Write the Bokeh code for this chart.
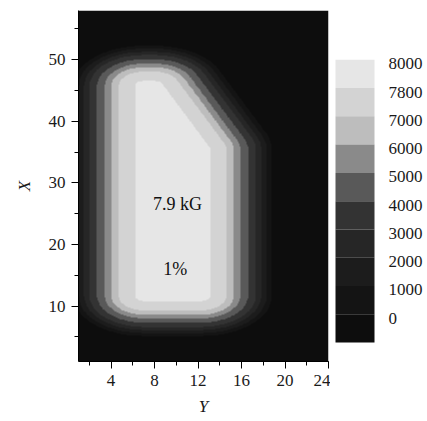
import numpy as np
from bokeh.plotting import figure
from bokeh.layouts import row
from bokeh.models import Range1d, SingleIntervalTicker, LinearColorMapper
from bokeh.core.properties import value
from bokeh.embed import file_html
from bokeh.resources import INLINE

# ---- data -------------------------------------------------------------
# colour-bar levels (top to bottom) and their grey shades
level_labels = ["8000", "7800", "7000", "6000", "5000", "4000", "3000", "2000", "1000", "0"]
level_colors = ["#e6e6e6", "#d3d3d3", "#bdbdbd", "#8a8a8a", "#595959",
                "#333333", "#262626", "#1c1c1c", "#141414", "#0d0d0d"]

# core outline of the pole face (horizontal axis "Y", vertical axis "X")
pole_Y = [7.0, 7.0, 7.97, 12.3, 12.3]
pole_X = [11.6, 45.8, 45.8, 35.54, 11.6]

# distance outside the pole core at which the field falls below each level
level_dist = [0.8, 2.3, 3.0, 3.6, 4.3, 5.0, 5.5, 6.0, 6.5]

# annotations
note_text = ["7.9 kG", "1%"]
note_Y = [10.1, 9.9]
note_X = [26.6, 16.1]

# axis ranges
Y_range = (1, 24)
X_range = (1, 58)

# ---- field on a grid ------------------------------------------------------
nY, nX = 460, 1140
gY = np.linspace(Y_range[0], Y_range[1], nY)
gX = np.linspace(X_range[0], X_range[1], nX)
GY, GX = np.meshgrid(gY, gX)

vy = np.array(pole_Y)
vx = np.array(pole_X)
n = len(vy)
dist = np.full(GY.shape, np.inf)
cross_signs = []
for i in range(n):
    ay, ax = vy[i], vx[i]
    by, bx = vy[(i + 1) % n], vx[(i + 1) % n]
    ey, ex = by - ay, bx - ax
    L2 = ey * ey + ex * ex
    t = np.clip(((GY - ay) * ey + (GX - ax) * ex) / L2, 0, 1)
    dy = GY - (ay + t * ey)
    dx = GX - (ax + t * ex)
    dist = np.minimum(dist, np.hypot(dy, dx))
    cross_signs.append(ey * (GX - ax) - ex * (GY - ay))
cs = np.array(cross_signs)
inside = np.all(cs >= 0, axis=0) | np.all(cs <= 0, axis=0)
dist[inside] = 0.0

band = 9 - np.searchsorted(np.array(level_dist), dist, side="left")

mapper = LinearColorMapper(palette=level_colors[::-1], low=-0.5, high=9.5)

# ---- main figure ------------------------------------------------------------
FONT = "Liberation Serif"
p = figure(width=330, height=418,
           x_range=Range1d(*Y_range), y_range=Range1d(*X_range),
           output_backend="svg", toolbar_location=None,
           min_border_left=78, min_border_right=2, min_border_top=10, min_border_bottom=57)
p.image(image=[band], x=Y_range[0], y=X_range[0],
        dw=Y_range[1] - Y_range[0], dh=X_range[1] - X_range[0], color_mapper=mapper)
p.text(x=note_Y, y=note_X, text=note_text, text_align="center", text_baseline="middle",
       text_font=value(FONT), text_font_size="18px", text_color="#111111")

p.grid.visible = False
p.outline_line_color = None
p.xaxis.ticker = SingleIntervalTicker(interval=4, num_minor_ticks=2)
p.yaxis.ticker = SingleIntervalTicker(interval=10, num_minor_ticks=2)
p.xaxis.axis_label = "Y"
p.yaxis.axis_label = "X"
for ax in (p.xaxis[0], p.yaxis[0]):
    ax.axis_line_color = "black"
    ax.major_tick_line_color = "black"
    ax.minor_tick_line_color = "black"
    ax.major_tick_out = 7
    ax.major_tick_in = 0
    ax.minor_tick_out = 4
    ax.minor_tick_in = 0
    ax.major_label_text_font = FONT
    ax.major_label_text_font_size = "17px"
    ax.major_label_text_color = "#1a1a1a"
    ax.major_label_standoff = 6
    ax.axis_label_text_font = FONT
    ax.axis_label_text_font_size = "17px"
    ax.axis_label_text_font_style = "italic"
    ax.axis_label_text_color = "#1a1a1a"
p.xaxis[0].axis_label_standoff = 8
p.yaxis[0].axis_label_standoff = 12

# ---- colour bar figure ----------------------------------------------------
nb = len(level_labels)
band_top = [nb - i for i in range(nb)]
band_bottom = [nb - i - 1 for i in range(nb)]
cb = figure(width=94, height=418, x_range=Range1d(0, 94), y_range=Range1d(-0.672, 11.744),
            output_backend="svg", toolbar_location=None,
            x_axis_location=None, y_axis_location=None,
            min_border_left=0, min_border_right=0, min_border_top=10, min_border_bottom=57)
cb.grid.visible = False
cb.outline_line_color = None
cb.quad(left=5, right=44, bottom=band_bottom, top=band_top,
        fill_color=level_colors, line_color=None)
cb.text(x=58, y=band_top, text=level_labels, text_baseline="middle", y_offset=4,
        text_font=value(FONT), text_font_size="17px", text_color="#1a1a1a")

layout = row(p, cb)
open("out.html", "w").write(file_html(layout, INLINE))
